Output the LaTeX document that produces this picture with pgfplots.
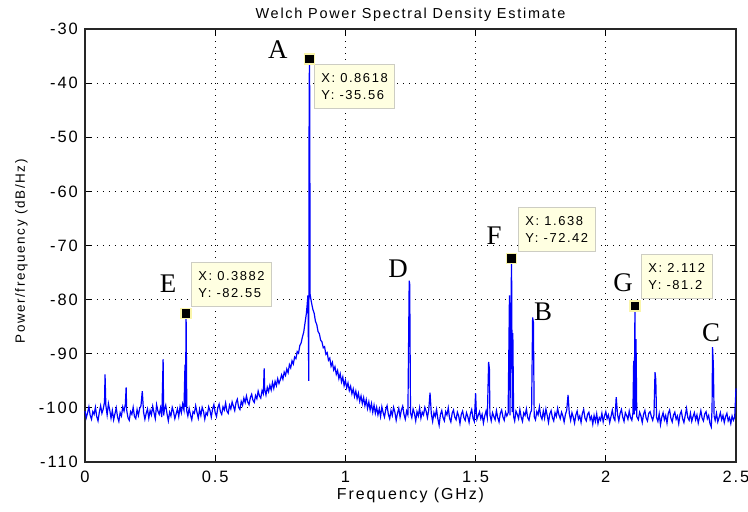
\documentclass[border=0pt]{standalone}
\usepackage{pgfplots}
\pgfplotsset{compat=1.18}
\usepackage{fontspec}
\setmainfont{Liberation Sans}
\newfontfamily\matfont[LetterSpace=12]{Liberation Sans}
\newfontfamily\serifletter{Liberation Serif}
\definecolor{tipfill}{RGB}{255,255,225}
\definecolor{tipedge}{RGB}{205,205,195}
\definecolor{halo}{RGB}{250,245,170}
\begin{document}
\begin{tikzpicture}
\useasboundingbox (-85bp,-50bp) rectangle (663bp,462bp);
\begin{axis}[
  at={(0,0)}, anchor=south west, clip=false,
  scale only axis, width=651bp, height=433bp,
  xmin=0, xmax=2.5, ymin=-110, ymax=-30,
  xtick={0,0.5,1,1.5,2,2.5}, xticklabels={0,0.5,1,1.5,2,2.5},
  ytick={-110,-100,-90,-80,-70,-60,-50,-40,-30},
  yticklabels={-110,-100,-90,-80,-70,-60,-50,-40,-30},
  tick align=inside, tick pos=both, major tick length=6bp,
  tick style={black, line width=0.8bp},
  grid=major, major grid style={black, line width=1bp, dash pattern=on 1bp off 5bp},
  axis line style={line width=1.3bp, black!85},
  tick label style={font=\matfont\fontsize{16.5}{19}\selectfont},
  xticklabel style={inner sep=0pt, yshift=-9bp},
  yticklabel style={inner sep=0pt, xshift=-7bp},
]
\addplot[blue, line width=1.2bp] coordinates {
(0.000,-100.6)(0.005,-101.8)(0.010,-100.9)(0.015,-99.8)(0.020,-101.4)(0.025,-102.1)(0.030,-100.7)(0.035,-101.2)(0.040,-99.9)(0.045,-101.6)
(0.050,-102.4)(0.055,-100.8)(0.060,-99.6)(0.065,-101.0)(0.070,-100.2)(0.075,-98.9)(0.077,-93.8)(0.080,-99.5)(0.085,-101.3)(0.090,-99.2)
(0.095,-100.4)(0.100,-101.9)(0.105,-100.5)(0.110,-102.2)(0.115,-101.1)(0.120,-100.0)(0.125,-101.7)(0.130,-102.5)(0.135,-100.9)(0.140,-101.5)
(0.145,-99.8)(0.150,-100.6)(0.155,-99.3)(0.158,-96.2)(0.160,-100.4)(0.165,-101.8)(0.170,-102.3)(0.175,-100.7)(0.180,-101.2)(0.185,-99.9)
(0.190,-101.6)(0.195,-102.0)(0.200,-100.3)(0.205,-101.4)(0.210,-100.1)(0.215,-99.6)(0.220,-96.9)(0.225,-100.8)(0.230,-102.1)(0.235,-101.0)
(0.240,-100.2)(0.245,-101.9)(0.250,-100.5)(0.255,-101.3)(0.260,-99.7)(0.265,-100.9)(0.270,-102.0)(0.275,-99.4)(0.280,-100.6)(0.285,-101.2)
(0.290,-100.0)(0.295,-101.7)(0.300,-91.0)(0.302,-101.4)(0.305,-100.3)(0.310,-99.5)(0.315,-101.1)(0.320,-102.4)(0.325,-100.8)(0.330,-101.5)
(0.335,-99.9)(0.340,-100.7)(0.345,-102.0)(0.350,-101.1)(0.355,-100.2)(0.360,-101.6)(0.365,-99.8)(0.370,-100.9)(0.375,-99.3)(0.380,-100.4)
(0.384,-92.0)(0.386,-99.8)(0.3882,-82.55)(0.391,-100.6)(0.395,-101.5)(0.400,-100.1)(0.405,-101.3)(0.410,-102.2)(0.415,-100.7)(0.420,-101.0)
(0.425,-99.6)(0.430,-100.8)(0.435,-101.9)(0.440,-100.3)(0.445,-101.4)(0.450,-99.9)(0.455,-100.6)(0.460,-102.1)(0.465,-100.9)(0.470,-101.3)
(0.475,-99.8)(0.480,-100.5)(0.485,-101.7)(0.490,-100.2)(0.495,-99.4)(0.500,-100.9)(0.505,-101.6)(0.510,-100.0)(0.515,-99.3)(0.520,-100.7)
(0.525,-101.2)(0.530,-99.8)(0.535,-100.4)(0.540,-99.1)(0.545,-100.6)(0.550,-101.0)(0.555,-99.5)(0.560,-100.2)(0.565,-98.9)(0.570,-99.7)
(0.575,-100.5)(0.580,-99.0)(0.585,-98.4)(0.590,-99.9)(0.595,-100.3)(0.600,-98.8)(0.605,-99.5)(0.610,-98.2)(0.615,-99.0)(0.620,-97.8)
(0.625,-98.9)(0.630,-99.4)(0.635,-98.1)(0.640,-97.5)(0.645,-98.6)(0.650,-99.0)(0.655,-97.7)(0.660,-98.3)(0.665,-96.9)(0.670,-97.8)
(0.675,-98.2)(0.680,-96.8)(0.685,-97.4)(0.688,-92.7)(0.690,-96.5)(0.695,-97.6)(0.700,-96.2)(0.705,-97.0)(0.710,-95.8)(0.715,-96.7)
(0.720,-95.3)(0.725,-96.4)(0.730,-95.1)(0.735,-95.9)(0.740,-94.6)(0.745,-95.5)(0.750,-94.8)(0.755,-93.9)(0.760,-94.7)(0.765,-93.4)
(0.770,-94.0)(0.775,-92.8)(0.780,-93.5)(0.785,-92.0)(0.790,-92.6)(0.795,-91.3)(0.800,-91.9)(0.805,-90.6)(0.810,-90.9)(0.815,-89.6)
(0.820,-89.9)(0.825,-88.5)(0.830,-88.0)(0.835,-86.9)(0.840,-86.0)(0.845,-84.3)(0.850,-82.6)(0.853,-81.0)(0.856,-79.2)(0.8595,-95.0)
(0.8605,-49.0)(0.8618,-35.56)(0.8630,-42.0)(0.8645,-79.0)(0.867,-79.8)(0.870,-80.6)(0.875,-81.8)(0.880,-82.5)(0.885,-84.0)(0.890,-84.6)
(0.895,-85.9)(0.900,-86.3)(0.905,-87.5)(0.910,-87.8)(0.915,-88.9)(0.920,-88.7)(0.925,-90.1)(0.930,-89.8)(0.935,-91.2)(0.940,-90.8)
(0.945,-92.3)(0.950,-91.6)(0.955,-93.0)(0.960,-92.4)(0.965,-93.8)(0.970,-93.1)(0.975,-94.6)(0.980,-93.7)(0.985,-95.2)(0.990,-94.3)
(0.995,-95.9)(1.000,-94.9)(1.005,-96.3)(1.010,-95.4)(1.015,-96.8)(1.020,-96.0)(1.025,-97.4)(1.030,-96.5)(1.035,-97.9)(1.040,-96.9)
(1.045,-98.3)(1.050,-97.3)(1.055,-98.8)(1.060,-97.8)(1.065,-99.2)(1.070,-98.1)(1.075,-99.6)(1.080,-98.5)(1.085,-100.1)(1.090,-98.9)
(1.095,-100.4)(1.100,-99.2)(1.105,-100.8)(1.110,-99.5)(1.115,-101.0)(1.120,-99.9)(1.125,-101.3)(1.130,-100.2)(1.135,-101.6)(1.140,-99.8)
(1.145,-100.9)(1.150,-101.7)(1.155,-100.3)(1.160,-99.6)(1.165,-101.2)(1.170,-102.0)(1.175,-100.5)(1.180,-101.4)(1.185,-99.9)(1.190,-100.8)
(1.195,-102.3)(1.200,-101.0)(1.205,-100.1)(1.210,-101.7)(1.215,-100.4)(1.220,-99.7)(1.225,-101.2)(1.230,-102.1)(1.235,-100.6)(1.240,-101.3)
(1.245,-76.5)(1.247,-77.2)(1.250,-100.9)(1.255,-101.8)(1.260,-100.2)(1.265,-101.0)(1.270,-102.4)(1.275,-100.7)(1.280,-101.5)(1.285,-100.0)
(1.290,-101.9)(1.295,-100.8)(1.300,-101.3)(1.305,-99.9)(1.310,-100.6)(1.315,-101.8)(1.320,-100.4)(1.325,-97.2)(1.330,-101.1)(1.335,-102.5)
(1.340,-100.9)(1.345,-101.6)(1.350,-100.3)(1.355,-102.0)(1.360,-103.2)(1.365,-101.2)(1.370,-100.5)(1.375,-101.8)(1.380,-102.4)(1.385,-100.7)
(1.390,-101.3)(1.395,-100.0)(1.400,-101.9)(1.405,-102.6)(1.410,-101.0)(1.415,-100.4)(1.420,-101.7)(1.425,-102.2)(1.430,-100.8)(1.435,-101.5)
(1.440,-102.9)(1.445,-101.2)(1.450,-100.6)(1.455,-101.8)(1.460,-102.3)(1.465,-100.9)(1.470,-101.6)(1.475,-102.7)(1.480,-101.1)(1.485,-100.3)
(1.490,-101.9)(1.495,-102.5)(1.500,-97.3)(1.503,-101.0)(1.505,-102.1)(1.510,-101.4)(1.515,-100.7)(1.520,-102.0)(1.525,-101.2)(1.530,-102.8)
(1.535,-101.5)(1.540,-100.6)(1.545,-101.8)(1.550,-91.5)(1.553,-92.8)(1.555,-101.3)(1.560,-102.4)(1.565,-100.9)(1.570,-101.6)(1.575,-102.2)
(1.580,-100.5)(1.585,-101.8)(1.590,-102.6)(1.595,-101.0)(1.600,-100.4)(1.605,-101.7)(1.610,-102.3)(1.615,-100.8)(1.620,-101.5)(1.625,-100.9)
(1.630,-79.2)(1.632,-101.4)(1.638,-72.42)(1.641,-100.8)(1.643,-86.2)(1.646,-101.6)(1.650,-102.4)(1.655,-100.6)(1.660,-101.2)(1.665,-102.0)
(1.670,-100.3)(1.675,-101.7)(1.680,-102.5)(1.685,-100.9)(1.690,-101.4)(1.695,-100.2)(1.700,-101.8)(1.705,-102.3)(1.710,-101.0)(1.715,-100.4)
(1.719,-83.3)(1.722,-84.2)(1.725,-101.6)(1.730,-102.2)(1.735,-100.7)(1.740,-101.3)(1.745,-99.8)(1.750,-101.5)(1.755,-102.1)(1.760,-100.6)
(1.765,-101.9)(1.770,-100.2)(1.775,-101.4)(1.780,-102.7)(1.785,-101.1)(1.790,-100.5)(1.795,-101.8)(1.800,-102.4)(1.805,-100.9)(1.810,-101.6)
(1.815,-100.1)(1.820,-101.3)(1.825,-102.0)(1.830,-100.8)(1.835,-101.5)(1.840,-102.6)(1.845,-101.2)(1.850,-100.4)(1.855,-97.6)(1.860,-101.1)
(1.865,-102.3)(1.870,-100.9)(1.875,-101.7)(1.880,-102.8)(1.885,-101.3)(1.890,-100.6)(1.895,-102.1)(1.900,-101.5)(1.905,-102.7)(1.910,-101.0)
(1.915,-100.3)(1.920,-101.9)(1.925,-102.4)(1.930,-101.2)(1.935,-100.8)(1.940,-102.2)(1.945,-101.6)(1.950,-103.0)(1.955,-101.4)(1.960,-102.5)
(1.965,-101.1)(1.970,-102.9)(1.975,-101.8)(1.980,-102.3)(1.985,-101.0)(1.990,-102.6)(1.995,-101.5)(2.000,-100.7)(2.005,-102.0)(2.010,-101.3)
(2.015,-102.7)(2.020,-101.6)(2.025,-100.4)(2.030,-101.8)(2.035,-102.3)(2.040,-98.0)(2.045,-101.2)(2.050,-102.4)(2.055,-101.0)(2.060,-100.3)
(2.065,-101.7)(2.070,-102.5)(2.075,-100.9)(2.080,-101.4)(2.085,-102.1)(2.090,-100.6)(2.095,-101.8)(2.100,-102.3)(2.104,-101.0)(2.107,-91.3)
(2.109,-101.2)(2.112,-81.2)(2.114,-100.5)(2.116,-87.3)(2.119,-101.6)(2.125,-102.2)(2.130,-100.8)(2.135,-101.5)(2.140,-102.7)(2.145,-101.2)
(2.150,-100.5)(2.155,-101.9)(2.160,-102.4)(2.165,-101.0)(2.170,-100.7)(2.175,-101.6)(2.180,-102.3)(2.185,-101.3)(2.189,-93.4)(2.192,-94.8)
(2.195,-101.8)(2.200,-102.5)(2.205,-101.1)(2.210,-103.1)(2.215,-101.7)(2.220,-100.9)(2.225,-102.2)(2.230,-101.4)(2.235,-102.8)(2.240,-101.0)
(2.245,-100.4)(2.250,-101.9)(2.255,-102.6)(2.260,-101.3)(2.265,-100.8)(2.270,-102.1)(2.275,-101.5)(2.280,-102.9)(2.285,-101.2)(2.290,-100.6)
(2.295,-102.0)(2.300,-102.7)(2.305,-101.4)(2.310,-100.1)(2.315,-101.8)(2.320,-102.3)(2.325,-101.0)(2.330,-102.5)(2.335,-101.6)(2.340,-100.9)
(2.345,-102.2)(2.350,-101.3)(2.355,-102.8)(2.360,-101.7)(2.365,-100.5)(2.370,-101.9)(2.375,-102.4)(2.380,-101.1)(2.385,-100.7)(2.390,-102.0)
(2.395,-101.4)(2.400,-102.9)(2.405,-103.5)(2.408,-100.2)(2.410,-88.8)(2.413,-92.0)(2.416,-101.5)(2.420,-102.3)(2.425,-101.0)(2.430,-102.6)
(2.435,-101.8)(2.440,-100.9)(2.445,-102.2)(2.450,-101.4)(2.455,-102.7)(2.460,-101.6)(2.465,-101.0)(2.470,-102.4)(2.475,-101.8)(2.480,-102.9)
(2.485,-101.5)(2.490,-102.3)(2.495,-101.7)(2.500,-96.4)
};
\addplot[only marks, mark=square*, mark size=5bp, mark options={fill=black, draw=halo, line width=1.5bp}]
  coordinates {(0.8618,-35.56)(0.3882,-82.55)(1.638,-72.42)(2.112,-81.2)};
% data tips
\tikzset{tip/.style={draw=tipedge, fill=tipfill, line width=0.8bp, anchor=north west, align=left,
  inner xsep=7bp, inner ysep=9bp, font=\matfont\fontsize{13}{17}\selectfont}}
\node[tip] at (axis cs:0.8794,-36.47) {X: 0.8618\\Y: -35.56};
\node[tip] at (axis cs:0.407,-73.05) {X: 0.3882\\Y: -82.55};
\node[tip] at (axis cs:1.663,-62.89) {X: 1.638\\Y: -72.42};
\node[tip] at (axis cs:2.135,-71.57) {X: 2.112\\Y: -81.2};
% letters
\tikzset{lab/.style={font=\serifletter\fontsize{27}{30}\selectfont, inner sep=0pt}}
\node[lab] at (axis cs:0.741,-33.8) {A};
\node[lab] at (axis cs:0.319,-77.1) {E};
\node[lab] at (axis cs:1.571,-68.2) {F};
\node[lab] at (axis cs:2.066,-76.9) {G};
\node[lab] at (axis cs:1.759,-82.3) {B};
\node[lab] at (axis cs:2.404,-86.2) {C};
\node[lab] at (axis cs:1.202,-74.2) {D};
% title and labels
\node[anchor=base, yshift=10bp, font=\matfont\fontsize{14.5}{17}\selectfont] at (rel axis cs:0.5,1) {Welch Power Spectral Density Estimate};
\node[anchor=base, inner sep=0pt, yshift=-37bp, font=\matfont\fontsize{16}{18}\selectfont] at (rel axis cs:0.5,0) {Frequency (GHz)};
\node[anchor=base, rotate=90, inner sep=0pt, font=\matfont\fontsize{13.5}{16}\selectfont] at ([xshift=-60bp, yshift=-6bp]rel axis cs:0,0.5) {Power/frequency (dB/Hz)};
\end{axis}
\end{tikzpicture}
\end{document}
